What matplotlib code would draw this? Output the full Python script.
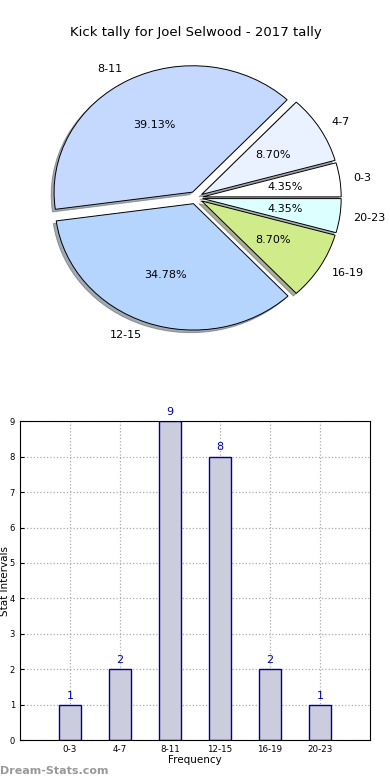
import matplotlib
matplotlib.use("Agg")
import matplotlib.pyplot as plt

# data
labels = ["0-3", "4-7", "8-11", "12-15", "16-19", "20-23"]
counts = [1, 2, 9, 8, 2, 1]
pie_colors = ["#ffffff", "#eaf1ff", "#c5d9ff", "#b5d5ff", "#cfeb8a", "#dcffff"]

fig = plt.figure(figsize=(3.9, 7.8), dpi=100)

# pie
ax1 = fig.add_axes([0.058, 0.544, 0.888, 0.405])
wedges, texts, autotexts = ax1.pie(
    counts, labels=labels, colors=pie_colors, autopct="%1.2f%%",
    explode=[0.05] * len(counts),
    shadow=dict(ox=-0.015, oy=-0.015, shade=0.6), startangle=0,
    wedgeprops=dict(edgecolor="black", linewidth=0.7),
    textprops=dict(fontsize=8))
ax1.set_aspect("auto")
ax1.set_title("Kick tally for Joel Selwood - 2017 tally", fontsize=9.5, pad=3)

# bars
ax2 = fig.add_axes([0.051, 0.051, 0.898, 0.409])
x = list(range(len(labels)))
bars = ax2.bar(x, counts, width=0.45, color="#ccccdf", edgecolor="#000099",
               linewidth=1.0, zorder=2)
for xi, c in zip(x, counts):
    ax2.text(xi, c + 0.12, str(c), ha="center", va="bottom",
             fontsize=8, color="#000099")
ax2.set_xlim(-1, 6)
ax2.set_ylim(0, 9)
ax2.set_xticks(x)
ax2.set_xticklabels(labels, fontsize=6.3)
ax2.set_yticks(range(10))
ax2.tick_params(axis="y", labelsize=6, direction="in", length=3)
ax2.tick_params(axis="x", direction="in", length=3)
ax2.grid(True, linestyle=":", color="#aaaaaa", linewidth=0.9, zorder=0)
ax2.set_axisbelow(True)
ax2.set_xlabel("Frequency", fontsize=7.5, labelpad=1)
ax2.set_ylabel("Stat Intervals", fontsize=7.5, labelpad=0)

fig.text(0.0, 0.005, "Dream-Stats.com", fontsize=8, color="#999999",
         fontweight="bold", ha="left", va="bottom")

fig.savefig("out.png", dpi=100)
